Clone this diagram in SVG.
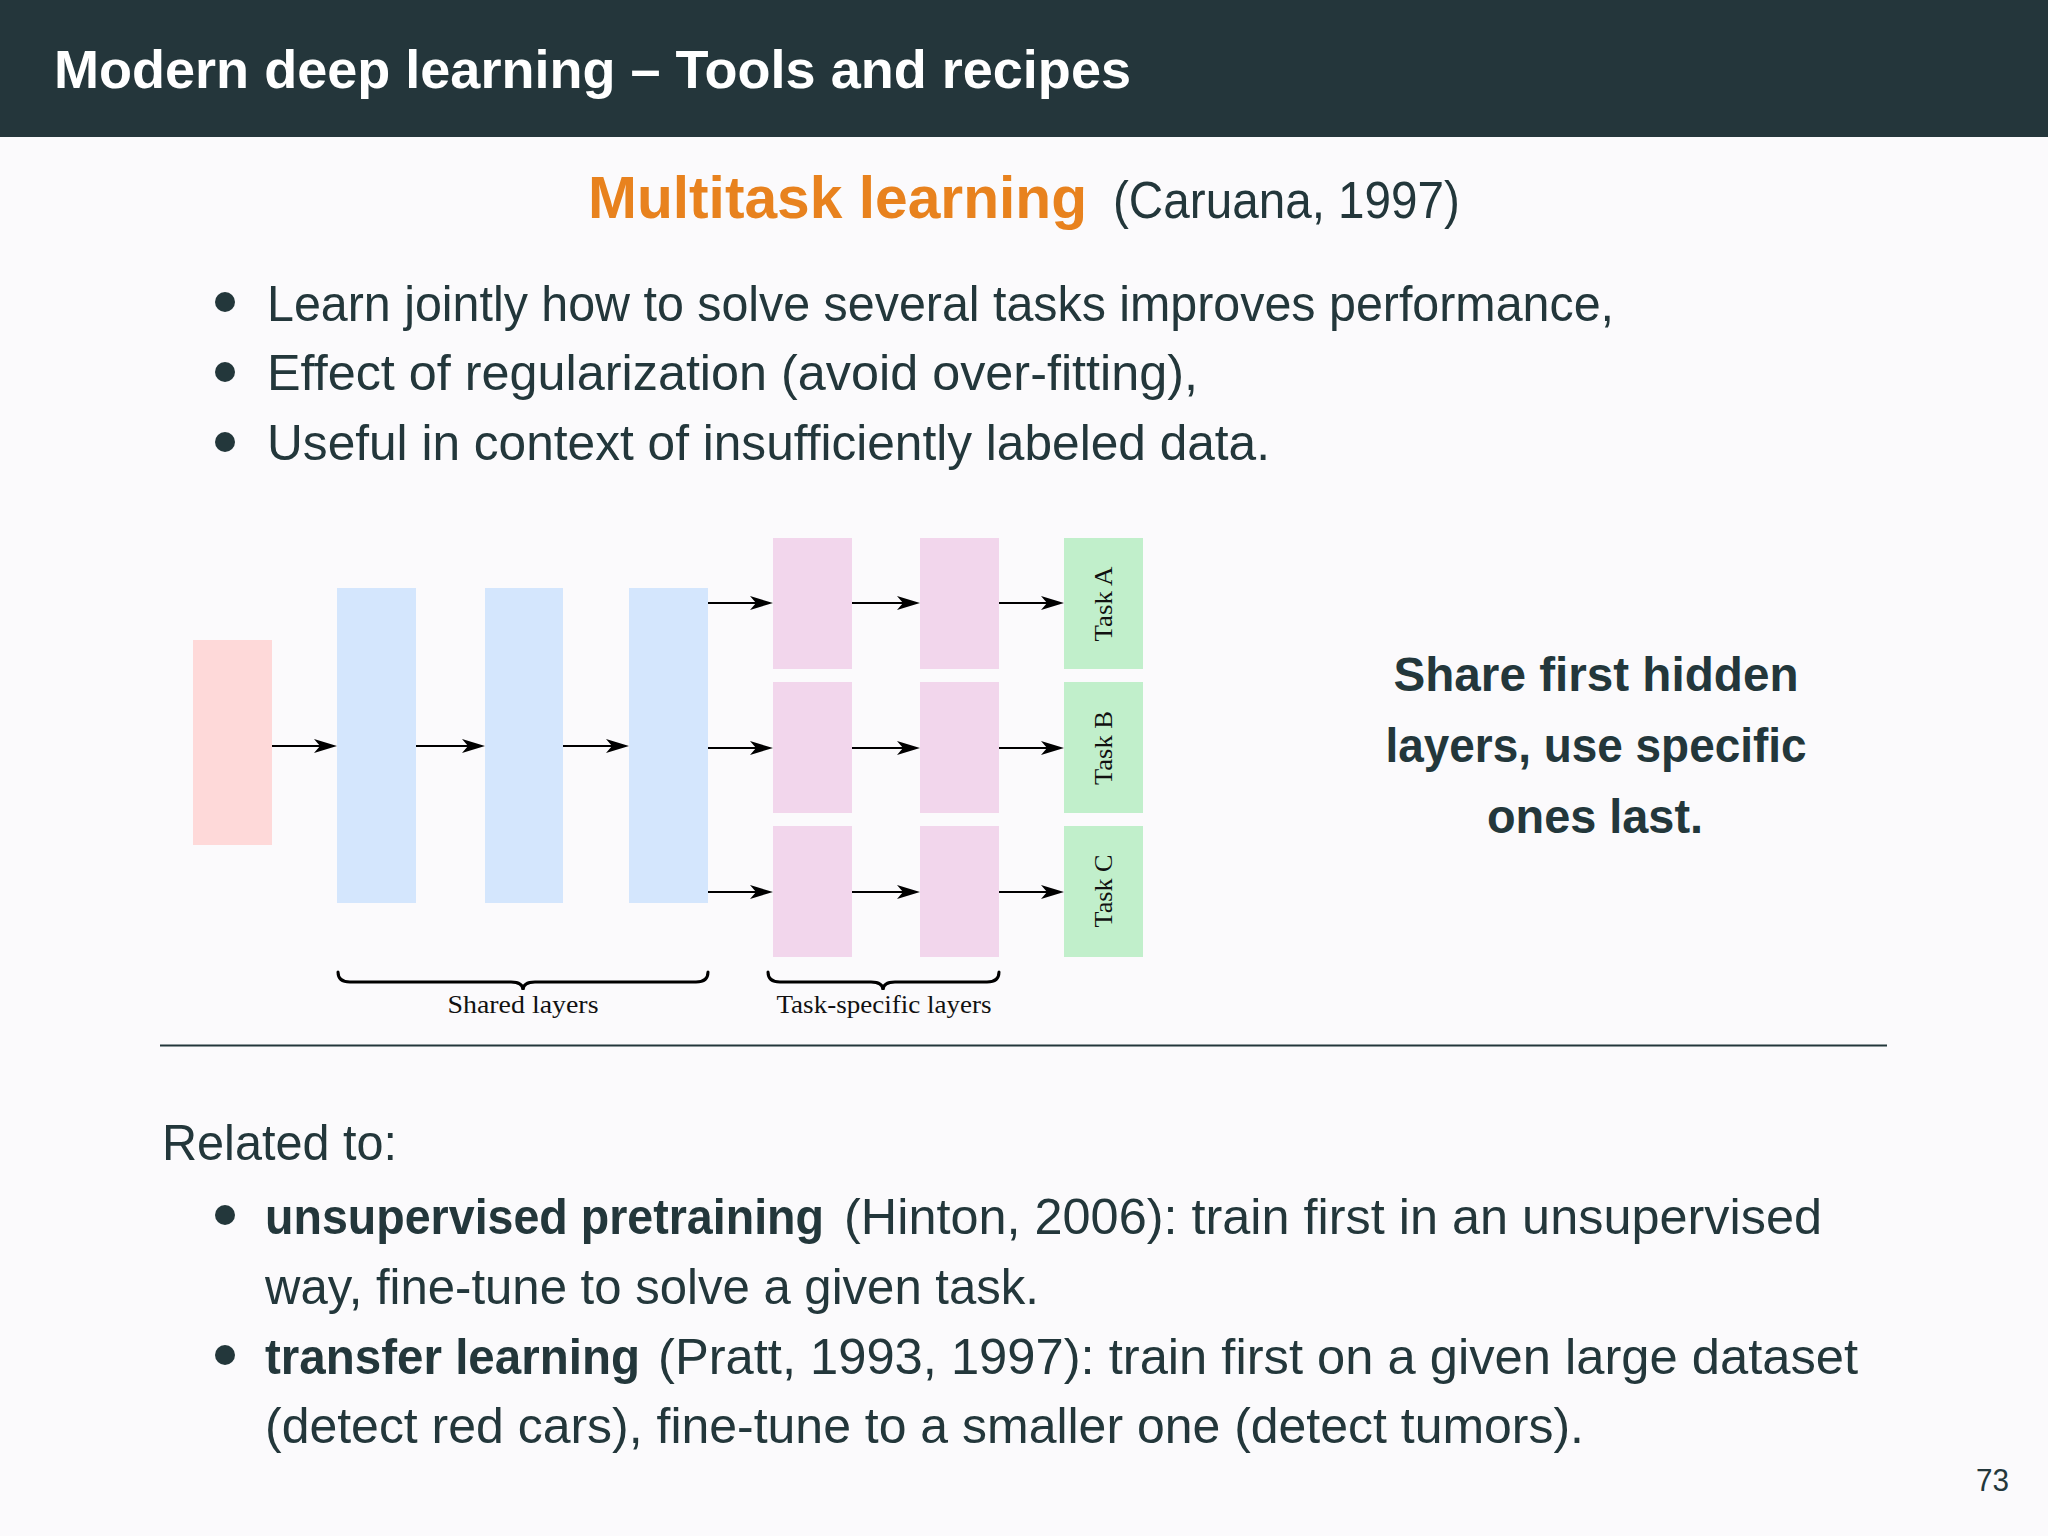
<svg xmlns="http://www.w3.org/2000/svg" width="2048" height="1536" viewBox="0 0 2048 1536">
<style>
.sans{font-family:"Liberation Sans",Arial,sans-serif;fill:#23373b}
.serif{font-family:"Liberation Serif","Times New Roman",serif;fill:#111}
.b{font-weight:bold}
.in{fill:#fed9d9}
.sh{fill:#d4e6fd}
.sp{fill:#f2d6ec}
.tk{fill:#c1efcb}
.conn line{stroke:#000;stroke-width:2;marker-end:url(#ah)}
.brace{fill:none;stroke:#000;stroke-width:3;stroke-linecap:round}
.dot{fill:#23373b}
</style>
<defs>
<marker id="ah" markerUnits="userSpaceOnUse" viewBox="-10 -8 26 16" markerWidth="26" markerHeight="16" refX="0" refY="0" orient="auto">
<path d="M15,0 L-8,-7 L-2,0 L-8,7 Z" fill="#000"/>
</marker>
</defs>
<rect width="2048" height="1536" fill="#fbfafc"/>
<g id="titlebar">
<rect x="0" y="0" width="2048" height="137" fill="#24363b"/>
<text x="54" y="88" font-size="53" class="sans b" style="fill:#fff" textLength="1077" lengthAdjust="spacingAndGlyphs">Modern deep learning – Tools and recipes</text>
</g>
<g id="heading">
<text x="588" y="218" font-size="60" class="sans b" style="fill:#e8821e" textLength="499" lengthAdjust="spacingAndGlyphs">Multitask learning</text>
<text x="1113" y="218" font-size="52" class="sans" textLength="347" lengthAdjust="spacingAndGlyphs">(Caruana, 1997)</text>
</g>
<g id="bullets-top">
<circle class="dot" cx="225" cy="302" r="10"/>
<circle class="dot" cx="225" cy="372" r="10"/>
<circle class="dot" cx="225" cy="442" r="10"/>
<text x="267" y="321" font-size="50" class="sans" textLength="1347" lengthAdjust="spacingAndGlyphs">Learn jointly how to solve several tasks improves performance,</text>
<text x="267" y="390" font-size="50" class="sans" textLength="931" lengthAdjust="spacingAndGlyphs">Effect of regularization (avoid over-fitting),</text>
<text x="267" y="460" font-size="50" class="sans" textLength="1003" lengthAdjust="spacingAndGlyphs">Useful in context of insufficiently labeled data.</text>
</g>
<g id="nodes">
<g id="input"><rect class="in" x="193" y="640" width="79" height="205"/></g>
<g id="shared1"><rect class="sh" x="337" y="588" width="79" height="315"/></g>
<g id="shared2"><rect class="sh" x="485" y="588" width="78" height="315"/></g>
<g id="shared3"><rect class="sh" x="629" y="588" width="79" height="315"/></g>
<g id="specA1"><rect class="sp" x="773" y="538" width="79" height="131"/></g>
<g id="specB1"><rect class="sp" x="773" y="682" width="79" height="131"/></g>
<g id="specC1"><rect class="sp" x="773" y="826" width="79" height="131"/></g>
<g id="specA2"><rect class="sp" x="920" y="538" width="79" height="131"/></g>
<g id="specB2"><rect class="sp" x="920" y="682" width="79" height="131"/></g>
<g id="specC2"><rect class="sp" x="920" y="826" width="79" height="131"/></g>
<g id="taskA"><rect class="tk" x="1064" y="538" width="79" height="131"/>
<text class="serif" font-size="26" text-anchor="middle" transform="translate(1112,604) rotate(-90)" textLength="75" lengthAdjust="spacingAndGlyphs">Task A</text></g>
<g id="taskB"><rect class="tk" x="1064" y="682" width="79" height="131"/>
<text class="serif" font-size="26" text-anchor="middle" transform="translate(1112,748) rotate(-90)" textLength="74" lengthAdjust="spacingAndGlyphs">Task B</text></g>
<g id="taskC"><rect class="tk" x="1064" y="826" width="79" height="131"/>
<text class="serif" font-size="26" text-anchor="middle" transform="translate(1112,891) rotate(-90)" textLength="73" lengthAdjust="spacingAndGlyphs">Task C</text></g>
</g>
<g id="connectors" class="conn">
<line x1="272" y1="746" x2="322" y2="746"/>
<line x1="416" y1="746" x2="470" y2="746"/>
<line x1="563" y1="746" x2="614" y2="746"/>
<line x1="708" y1="603" x2="758" y2="603"/>
<line x1="708" y1="748" x2="758" y2="748"/>
<line x1="708" y1="892" x2="758" y2="892"/>
<line x1="852" y1="603" x2="905" y2="603"/>
<line x1="852" y1="748" x2="905" y2="748"/>
<line x1="852" y1="892" x2="905" y2="892"/>
<line x1="999" y1="603" x2="1049" y2="603"/>
<line x1="999" y1="748" x2="1049" y2="748"/>
<line x1="999" y1="892" x2="1049" y2="892"/>
</g>
<g id="braces">
<path class="brace" d="M338,972 Q338,982 350,982 L511,982 Q523,982 523,990 Q523,982 535,982 L696,982 Q708,982 708,972"/>
<path class="brace" d="M768,972 Q768,982 780,982 L871,982 Q883,982 883,990 Q883,982 895,982 L987,982 Q999,982 999,972"/>
<text class="serif" x="523" y="1013" font-size="25" text-anchor="middle" textLength="151" lengthAdjust="spacingAndGlyphs">Shared layers</text>
<text class="serif" x="884" y="1013" font-size="25" text-anchor="middle" textLength="215" lengthAdjust="spacingAndGlyphs">Task-specific layers</text>
</g>
<g id="note">
<text x="1596" y="691" font-size="48" class="sans b" text-anchor="middle" textLength="405" lengthAdjust="spacingAndGlyphs">Share first hidden</text>
<text x="1596" y="762" font-size="48" class="sans b" text-anchor="middle" textLength="421" lengthAdjust="spacingAndGlyphs">layers, use specific</text>
<text x="1595" y="833" font-size="48" class="sans b" text-anchor="middle" textLength="216" lengthAdjust="spacingAndGlyphs">ones last.</text>
</g>
<line x1="160" y1="1045.5" x2="1887" y2="1045.5" stroke="#23373b" stroke-width="1.8"/>
<g id="related">
<text x="162" y="1160" font-size="50" class="sans" textLength="235" lengthAdjust="spacingAndGlyphs">Related to:</text>
<circle class="dot" cx="225" cy="1215" r="10"/>
<circle class="dot" cx="225" cy="1355" r="10"/>
<text x="265" y="1234" font-size="50" class="sans b" textLength="559" lengthAdjust="spacingAndGlyphs">unsupervised pretraining</text>
<text x="844" y="1234" font-size="50" class="sans" textLength="978" lengthAdjust="spacingAndGlyphs">(Hinton, 2006): train first in an unsupervised</text>
<text x="265" y="1304" font-size="50" class="sans" textLength="774" lengthAdjust="spacingAndGlyphs">way, fine-tune to solve a given task.</text>
<text x="265" y="1374" font-size="50" class="sans b" textLength="375" lengthAdjust="spacingAndGlyphs">transfer learning</text>
<text x="658" y="1374" font-size="50" class="sans" textLength="1200" lengthAdjust="spacingAndGlyphs">(Pratt, 1993, 1997): train first on a given large dataset</text>
<text x="265" y="1443" font-size="50" class="sans" textLength="1319" lengthAdjust="spacingAndGlyphs">(detect red cars), fine-tune to a smaller one (detect tumors).</text>
</g>
<text x="1976" y="1491" font-size="32" class="sans" textLength="33" lengthAdjust="spacingAndGlyphs">73</text>
</svg>
